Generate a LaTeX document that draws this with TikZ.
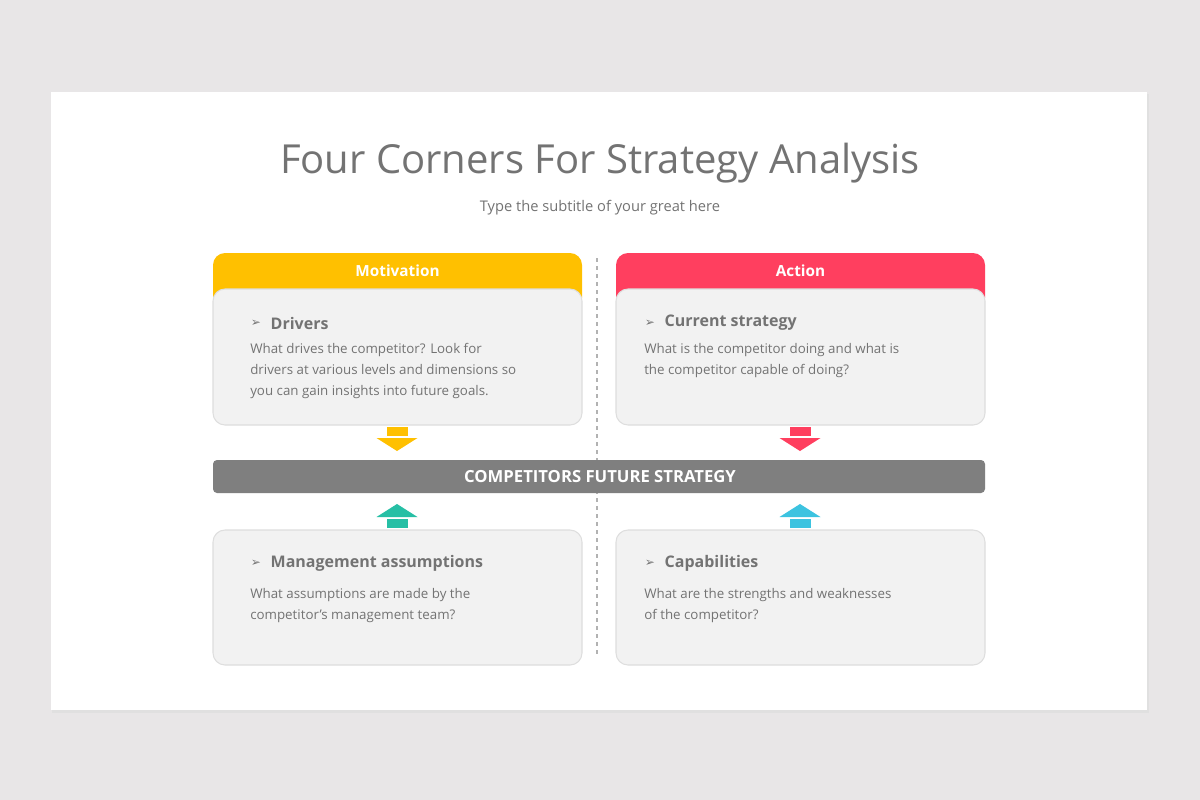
\documentclass[tikz,border=0pt]{standalone}
\usepackage{fontspec}
\setmainfont{Open Sans}
\newfontfamily\symf{DejaVu Sans}
\begin{document}
\begin{tikzpicture}[x=0.75pt,y=-0.75pt,
  body/.style={fill=boxg,draw=boxb,line width=0.8pt,rounded corners=9pt},
  head/.style={font=\bfseries\fontsize{11.5}{13}\selectfont,text=white},
  ttl/.style={font=\bfseries\fontsize{12}{14}\selectfont,text=txt,anchor=west},
  txtb/.style={font=\fontsize{10}{15.8}\selectfont,text=txt,anchor=north west,align=left,inner sep=0pt},
  bul/.style={font=\symf\fontsize{9}{10}\selectfont,text=txt}]
\definecolor{bg}{HTML}{E8E6E7}\definecolor{boxg}{HTML}{F2F2F2}\definecolor{boxb}{HTML}{DEDEDE}
\definecolor{yel}{HTML}{FFC000}\definecolor{redc}{HTML}{FF3F5F}\definecolor{txt}{HTML}{737373}
\definecolor{teal}{HTML}{26BFA5}\definecolor{blu}{HTML}{3CC3E0}\definecolor{barc}{HTML}{7F7F7F}
\fill[bg] (0,0) rectangle (1200,800);
\useasboundingbox (0,0) rectangle (1200,800);
\fill[black!12] (52,94) rectangle (1149,713);
\fill[white] (51,92) rectangle (1147,710);
\node[font=\fontsize{30}{34}\selectfont,text=txt] (title) at (600,163) {Four Corners For Strategy Analysis};
\node[font=\fontsize{11}{13}\selectfont,text=txt] (sub) at (600,208) {Type the subtitle of your great here};
\draw[black!30,dashed,line width=1pt] (597,258) -- (597,657);
% top boxes
\fill[yel,rounded corners=9pt] (213,253) rectangle (582,310);
\fill[redc,rounded corners=9pt] (616,253) rectangle (985,310);
\node[head] (mot) at (397.5,271) {Motivation};
\node[head] (act) at (800.5,271) {Action};
\draw[body] (213,289) rectangle (582,425);
\draw[body] (616,289) rectangle (985,425);
\draw[body] (213,530) rectangle (582,665);
\draw[body] (616,530) rectangle (985,665);
% texts
\node[bul] (b1) at (256,323) {➢}; \node[ttl] (t1) at (266,323) {Drivers};
\node[txtb] (d1) at (250,343) {What drives the competitor? Look for\\drivers at various levels and dimensions so\\you can gain insights into future goals.};
\node[bul] (b2) at (650,323) {➢}; \node[ttl] (t2) at (660,323) {Current strategy};
\node[txtb] (d2) at (644,343) {What is the competitor doing and what is\\the competitor capable of doing?};
\node[bul] (b3) at (256,563) {➢}; \node[ttl] (t3) at (266,563) {Management assumptions};
\node[txtb] (d3) at (250,588) {What assumptions are made by the\\competitor's management team?};
\node[bul] (b4) at (650,563) {➢}; \node[ttl] (t4) at (660,563) {Capabilities};
\node[txtb] (d4) at (644,588) {What are the strengths and weaknesses\\of the competitor?};
% bar
\fill[barc,rounded corners=3pt] (213,460) rectangle (985,493);
\node[head,font=\bfseries\fontsize{12.5}{14}\selectfont] (bar) at (600,476.5) {COMPETITORS FUTURE STRATEGY};
% arrows
\foreach \cx/\c in {397/yel,800/redc}{
  \fill[\c] (\cx-10.5,427) rectangle (\cx+10.5,436);
  \fill[\c] (\cx-20.5,438) -- (\cx+20.5,438) -- (\cx,451) -- cycle;}
\foreach \cx/\c in {397/teal,800/blu}{
  \fill[\c] (\cx-10.5,528) rectangle (\cx+10.5,519);
  \fill[\c] (\cx-20.5,517) -- (\cx+20.5,517) -- (\cx,504) -- cycle;}
\end{tikzpicture}
\end{document}
